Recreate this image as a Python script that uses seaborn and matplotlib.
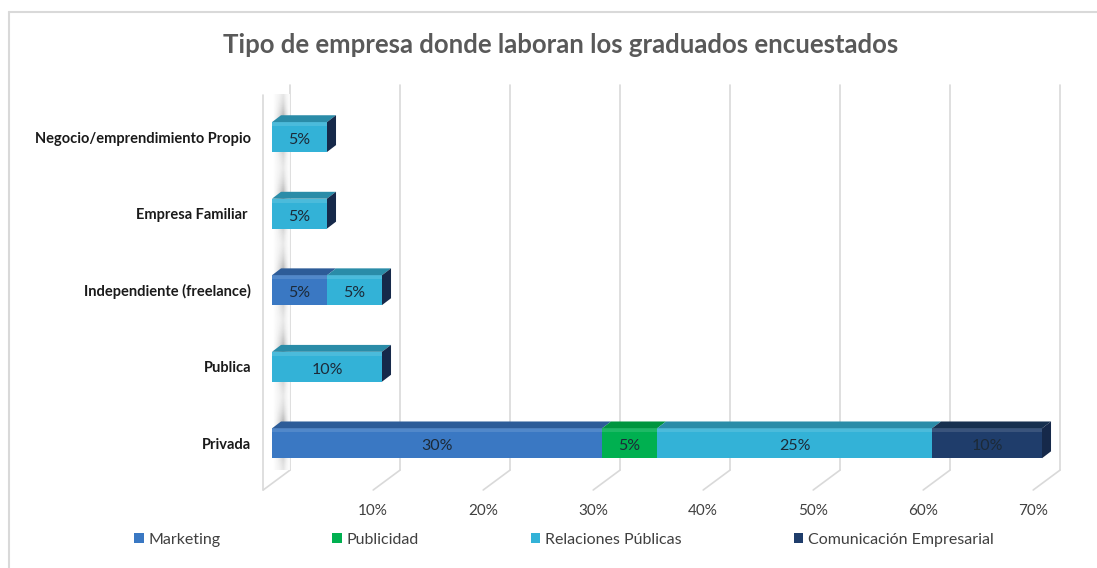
import numpy as np
import pandas as pd
import seaborn as sns
import matplotlib.pyplot as plt
from matplotlib.patches import Polygon, Patch
from matplotlib.lines import Line2D

# data (percent of respondents)
categorias = ["Negocio/emprendimiento Propio", "Empresa Familiar ", "Independiente (freelance)",
              "Publica", "Privada"]
series = ["Marketing", "Publicidad", "Relaciones Públicas", "Comunicación Empresarial"]
marketing = [0, 0, 5, 0, 30]
publicidad = [0, 0, 0, 0, 5]
relaciones = [5, 5, 5, 10, 25]
comunicacion = [0, 0, 0, 0, 10]
ticks = [10, 20, 30, 40, 50, 60, 70]

front = ["#3A78C3", "#00B050", "#33B2D7", "#1F3D6B"]
top = ["#2D5C98", "#00953F", "#2A8CA8", "#17304F"]
side = "#16294A"

sns.set_theme(style="white")
plt.rcParams['font.family'] = ['Lato', 'DejaVu Sans']

df = pd.DataFrame({"Tipo": categorias, "Marketing": marketing, "Publicidad": publicidad,
                   "Relaciones Públicas": relaciones, "Comunicación Empresarial": comunicacion})
cum = df[series].cumsum(axis=1)

fig = plt.figure(figsize=(10.97, 5.68), dpi=100)
ax = fig.add_axes([272 / 1097, 1 - 490 / 568, 814 / 1097, 405 / 568])

# overlay cumulative totals, longest first, to get stacked bars
for k in range(len(series) - 1, -1, -1):
    d = pd.DataFrame({"Tipo": categorias, "v": cum[series[k]]})
    sns.barplot(data=d, x="v", y="Tipo", order=categorias, color=front[k], orient="h",
                width=0.39, linewidth=0, saturation=1, ax=ax, zorder=3)

ax.set_xlim(0, 74)
ax.set_ylim(4.61, -0.68)

dx, dy, h = 0.82, 0.09, 0.39
for i in range(len(categorias)):
    left = 0
    last_right = 0
    for k, s in enumerate(series):
        v = df.loc[i, s]
        if v == 0:
            continue
        right = left + v
        yt = i - h / 2
        ax.add_patch(Polygon([(left, yt), (right, yt), (right + dx, yt - dy), (left + dx, yt - dy)],
                             closed=True, facecolor=top[k], edgecolor="none", zorder=3))
        # light stripe on the front face
        ax.add_patch(Polygon([(left, yt), (right, yt), (right, yt + 0.05), (left, yt + 0.05)],
                             closed=True, facecolor="white", alpha=0.12, edgecolor="none", zorder=4))
        ax.text((left + right) / 2, i + 0.04, f"{v}%", ha="center", va="center",
                fontsize=11.5, color="#1C2A38", zorder=5)
        left = right
        last_right = right
    yt, yb = i - h / 2, i + h / 2
    ax.add_patch(Polygon([(last_right, yt), (last_right + dx, yt - dy), (last_right + dx, yb - dy),
                          (last_right, yb)], closed=True, facecolor=side, edgecolor="none", zorder=3))

# back wall gridlines and floor
back = 1.64
y_floor = 4.35
for t in [0] + ticks:
    ax.plot([t + back, t + back], [-0.68, y_floor], color="#D9D9D9", lw=1.2, zorder=0, clip_on=False)
    ax.plot([t + back, t - 0.8], [y_floor, 4.61], color="#D9D9D9", lw=1.2, zorder=0, clip_on=False)
ax.plot([-0.8, -0.8], [-0.55, 4.61], color="#D9D9D9", lw=1.2, zorder=0, clip_on=False)

# shading of the side wall, darker next to each bar
yy = np.linspace(-0.55, y_floor, 200)
prof_y = np.zeros_like(yy)
for i in range(len(categorias)):
    prof_y = np.maximum(prof_y, np.exp(-((yy - (i - 0.1)) / 0.3) ** 2))
prof_y = 0.3 + 0.7 * prof_y
prof_x = np.concatenate([np.linspace(0.0, 1.0, 12), np.linspace(1.0, 0.0, 8)])
ax.imshow(np.outer(prof_y, prof_x), extent=[0.1, back, y_floor, -0.55], aspect="auto",
          cmap="Greys", vmin=0, vmax=1.9, alpha=0.85, zorder=1, origin="upper")

for t in ticks:
    ax.text(t - 0.8, 4.89, f"{t}%", ha="center", va="center", fontsize=11, color="#404040")

ax.set_xticks([])
ax.set_yticks(range(len(categorias)))
ax.set_yticklabels(categorias, fontsize=10.5, fontweight="bold", color="#1A1A1A")
ax.tick_params(axis="y", length=0, pad=15)
ax.set_xlabel("")
ax.set_ylabel("")
for sp in ax.spines.values():
    sp.set_visible(False)
ax.set_facecolor("none")

fig.text(561 / 1097, 1 - 45 / 568, "Tipo de empresa donde laboran los graduados encuestados",
         ha="center", va="center", fontsize=18.5, fontweight="bold", color="#595959")

handles = [Patch(facecolor=c, edgecolor="none") for c in front]
fig.legend(handles, series, loc="center", bbox_to_anchor=(564 / 1097, 1 - 540 / 568), ncol=4,
           frameon=False, fontsize=11.5, handlelength=0.6, handleheight=0.6, handletextpad=0.3,
           columnspacing=7.0, labelcolor="#404040")

# chart border (top and left edges visible)
fig.add_artist(Line2D([9 / 1097, 9 / 1097], [0, 1 - 12 / 568], color="#D9D9D9", lw=1.5))
fig.add_artist(Line2D([9 / 1097, 1], [1 - 12 / 568, 1 - 12 / 568], color="#D9D9D9", lw=1.5))

fig.savefig("out.png", dpi=100)
